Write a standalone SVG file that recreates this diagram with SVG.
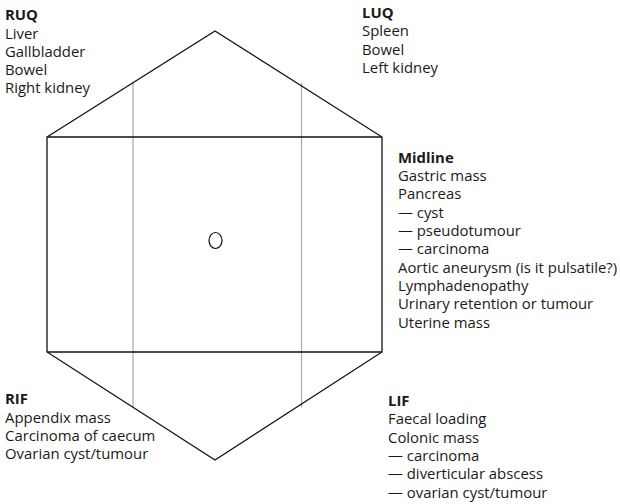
<svg xmlns="http://www.w3.org/2000/svg" width="620" height="504" viewBox="0 0 620 504">
<style>
text{font-family:"Open Sans",Lato,"Liberation Sans",sans-serif;font-size:14.9px;fill:#1a1a1a}
.h{font-weight:bold}
.out{fill:none;stroke:#111;stroke-width:1.3;stroke-linejoin:miter}
.grid{fill:none;stroke:#aaa;stroke-width:1.2}
</style>
<rect width="620" height="504" fill="#fff"/>
<g id="abdomen">
<line class="grid" x1="133" y1="82.7" x2="133" y2="407.5"/>
<line class="grid" x1="301.5" y1="82.7" x2="301.5" y2="407.5"/>
<path class="out" d="M47,137 L215,31 L382,137 L382,352 L215,460 L47,352 Z"/>
<line class="out" x1="47" y1="137" x2="382" y2="137"/>
<line class="out" x1="47" y1="352" x2="382" y2="352"/>
<ellipse id="umbilicus" cx="215.5" cy="240.5" rx="6.5" ry="8" fill="none" stroke="#111" stroke-width="1.2"/>
</g>
<g id="ruq">
<text x="5" y="20" class="h">RUQ</text>
<text x="5" y="38.5">Liver</text>
<text x="5" y="56.8">Gallbladder</text>
<text x="5" y="75">Bowel</text>
<text x="5" y="93.3">Right kidney</text>
</g>
<g id="luq">
<text x="362" y="17.5" class="h">LUQ</text>
<text x="362" y="36">Spleen</text>
<text x="362" y="54.5">Bowel</text>
<text x="362" y="73">Left kidney</text>
</g>
<g id="midline">
<text x="398" y="162.7" class="h">Midline</text>
<text x="398" y="181">Gastric mass</text>
<text x="398" y="199.3">Pancreas</text>
<text x="398" y="217.6">— cyst</text>
<text x="398" y="236">— pseudotumour</text>
<text x="398" y="254.3">— carcinoma</text>
<text x="398" y="272.6">Aortic aneurysm (is it pulsatile?)</text>
<text x="398" y="291">Lymphadenopathy</text>
<text x="398" y="309.3">Urinary retention or tumour</text>
<text x="398" y="327.6">Uterine mass</text>
</g>
<g id="rif">
<text x="5" y="404.3" class="h">RIF</text>
<text x="5" y="422.7">Appendix mass</text>
<text x="5" y="441">Carcinoma of caecum</text>
<text x="5" y="459.3">Ovarian cyst/tumour</text>
</g>
<g id="lif">
<text x="388" y="405.8" class="h">LIF</text>
<text x="388" y="424.2">Faecal loading</text>
<text x="388" y="442.6">Colonic mass</text>
<text x="388" y="461">— carcinoma</text>
<text x="388" y="479.3">— diverticular abscess</text>
<text x="388" y="497.6">— ovarian cyst/tumour</text>
</g>
</svg>
